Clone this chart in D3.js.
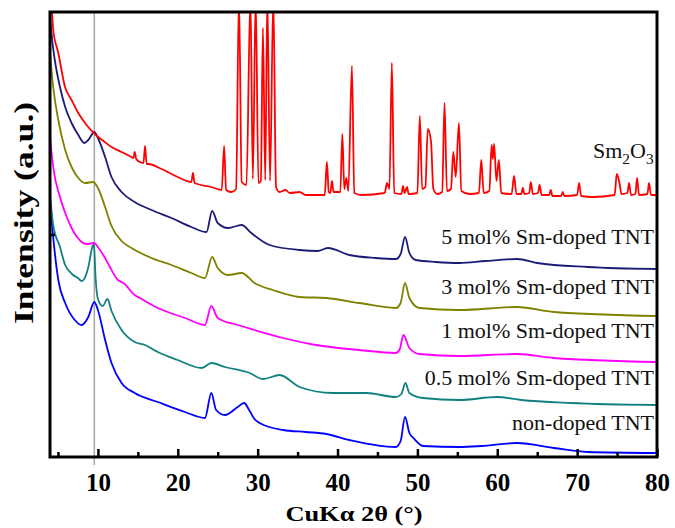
<!DOCTYPE html>
<html>
<head>
<meta charset="utf-8">
<script src="https://cdn.jsdelivr.net/npm/d3@7"></script>
<style>
  html, body { margin: 0; padding: 0; background: #fff; }
  svg { display: block; font-family: "Liberation Serif", "Times New Roman", serif; }
</style>
</head>
<body>
<svg id="chart" width="675" height="528"></svg>
<script>
// XRD patterns, [2theta, intensity a.u.] (curves are stacked)
var sm2o3 = [[4.25,445],[4.41,427],[5.04,404],[5.88,370],[6.7,357],[7.54,344],[8.58,332],[9.6,323],[10.7,316],[11.7,310],[12.96,305],[14.2,300],[14.45,299],[14.6,305],[14.8,298],[15.25,295],[15.7,294],[15.9,311],[16.1,293],[16.3,293],[17.96,288],[20.0,280],[21.7,275],[21.9,284],[22.1,274],[24.2,270],[25.5,267],[25.8,311],[26.05,267],[26.7,265],[27.3,268],[27.66,460],[28.0,275],[28.6,272],[29.09,460],[29.4,278],[29.75,460],[30.1,274],[30.4,276],[30.66,429],[30.95,277],[31.21,460],[31.55,276],[31.96,460],[32.3,270],[32.75,265],[33.5,267],[34,264],[35.25,265],[36,262],[38.4,262],[38.67,295],[38.9,265],[39.1,264],[39.3,276],[39.5,265],[40.35,265],[40.6,323],[40.85,268],[41.1,279],[41.35,266],[41.8,391],[42.1,264],[43.0,262],[45.9,264],[46.2,274],[46.5,268],[46.8,394],[47.1,264],[48.0,263],[48.2,271],[48.4,264],[48.7,270],[48.9,263],[50.0,264],[50.3,341],[50.6,268],[51.0,270],[51.3,328],[51.7,316],[52.0,268],[52.5,263],[53.1,265],[53.4,354],[53.7,266],[54.2,268],[54.5,305],[54.8,280],[55.2,334],[55.5,266],[56.5,263],[57.7,264],[58.0,297],[58.3,264],[59.0,266],[59.3,312],[59.45,298],[59.6,313],[59.9,276],[60.2,297],[60.5,264],[61.8,263],[62.1,281],[62.4,263],[63.0,263],[63.2,269],[63.4,263],[64.0,264],[64.2,275],[64.45,263],[65.1,264],[65.3,272],[65.55,262],[66.5,262],[66.7,267],[66.9,261],[68.0,261],[68.2,265],[68.4,261],[70.0,262],[70.25,274],[70.5,261],[72,260],[74.7,262],[74.96,283],[75.3,274],[75.55,263],[76.3,264],[76.5,274],[76.75,262],[77.3,263],[77.5,279],[77.75,262],[78.8,263],[79.0,274],[79.25,262],[80,262]];

var sm5 = [[4.0,440],[4.3,415],[4.6,397],[5.25,370],[5.9,350],[6.7,334],[7.54,322],[8.3,314],[8.8,317],[9.55,325],[10.0,319],[10.9,300],[11.7,280],[12.96,265],[14.6,255],[16.7,247],[19.2,239],[21.7,230],[23.6,225],[24.3,246],[25.0,234],[26.3,229],[28.0,232],[29.2,224],[31.5,212],[35.25,207],[37.5,206],[38.8,209],[41.5,202],[44.8,199],[47.3,198],[47.9,203],[48.45,220],[49.0,204],[49.8,197],[52.3,195],[55.25,194],[58.5,196],[62.5,198],[65,194],[71.3,190],[80,188]];

var sm3 = [[4.0,404],[4.4,370],[5.04,337],[5.9,307],[6.7,290],[7.54,279],[8.4,274],[9.4,275],[10.0,269],[10.9,250],[11.7,231],[12.96,216],[14.2,209],[16.7,199],[19.2,192],[21.7,184],[23.4,179],[24.3,200],[25.0,189],[26.3,182],[28.0,184],[29.6,174],[31.9,167],[35.25,160],[38.6,159],[42.75,154],[47.3,149],[47.9,154],[48.45,174],[49.0,159],[50.25,149],[55.25,147],[62.5,150],[67.1,145],[80,141]];

var sm1 = [[3.95,325],[4.4,290],[5.25,260],[6.1,240],[6.7,229],[7.3,221],[7.96,215],[8.6,213],[9.5,214],[10.25,207],[10.9,199],[11.5,190],[12.5,177],[13.2,174],[14.6,162],[15.25,159],[17.5,149],[20.9,139],[23.4,132],[24.2,151],[25.0,139],[27.5,132],[29.6,127],[33.2,119],[37.3,112],[42.75,107],[47.3,104],[47.8,108],[48.25,122],[49.0,109],[50.25,103],[55.25,101],[62.5,103],[67.1,99],[80,95]];

var sm05 = [[3.9,272],[4.4,232],[5.25,210],[5.9,192],[6.9,182],[7.5,179],[7.96,176],[8.2,177],[8.8,190],[9.3,210],[9.5,213],[9.7,180],[10.0,158],[10.6,151],[11.2,158],[11.7,146],[12.96,127],[14.6,115],[15.9,112],[17.5,105],[20,97],[23,89],[24.2,94],[25.9,90],[29,84],[30.7,78],[32.75,82],[35.25,70],[39.4,64],[43.6,64],[47.3,60],[48.0,63],[48.5,74],[49,64],[50.7,59],[55.25,57],[60,60],[63,57],[69.2,54],[80,52]];

var undoped = [[3.95,262],[4.4,220],[5.04,177],[5.9,154],[7.1,137],[7.96,132],[8.8,140],[9.55,155],[10.0,147],[10.9,117],[11.7,94],[12.96,74],[14.6,64],[17.5,55],[20.9,45],[23.4,39],[24.2,64],[24.8,47],[25.9,42],[27.5,50],[28.3,54],[29.0,46],[29.6,38],[30.25,34],[33.2,27],[36,25],[38.6,23],[41.5,17],[47.3,10],[47.9,16],[48.45,40],[49,24],[49.5,19],[50.7,11],[55.25,10],[58,11],[62.5,14],[67.1,9],[71.3,5],[80,4]];

var seriesNames = ["non-doped TNT", "0.5 mol% Sm-doped TNT", "1 mol% Sm-doped TNT", "3 mol% Sm-doped TNT", "5 mol% Sm-doped TNT", "Sm2O3"];
var seriesData = [undoped, sm05, sm1, sm3, sm5, sm2o3];
var seriesColors = ["#0000ff", "#118080", "#ff00ff", "#808000", "#1c1c78", "#ff0000"];
var majorTicks = [10, 20, 30, 40, 50, 60, 70, 80];
var minorTicks = [5, 15, 25, 35, 45, 55, 65, 75];
var refLine = 9.55;

var svg = d3.select("#chart");
var plotL = 50, plotR = 657, plotT = 12, plotB = 457;

var x = d3.scaleLinear().domain([4, 80]).range([plotL, plotR]);
var y = d3.scaleLinear().domain([0, 445]).range([plotB, plotT]);

svg.append("clipPath").attr("id", "plotclip")
  .append("rect")
  .attr("x", plotL).attr("y", plotT)
  .attr("width", plotR - plotL).attr("height", plotB - plotT);

// grey guide line at the low-angle peak
svg.append("line")
  .attr("x1", x(refLine)).attr("x2", x(refLine))
  .attr("y1", plotT).attr("y2", plotB + 8)
  .attr("stroke", "#a8a8a8").attr("stroke-width", 1.5);

var line = d3.line()
  .x(function(d) { return x(d[0]); })
  .y(function(d) { return y(d[1]); })
  .curve(d3.curveMonotoneX);

svg.append("g").attr("clip-path", "url(#plotclip)")
  .selectAll("path")
  .data(seriesData)
  .join("path")
  .attr("d", line)
  .attr("fill", "none")
  .attr("stroke", function(d, i) { return seriesColors[i]; })
  .attr("stroke-width", 1.8)
  .attr("stroke-linejoin", "round");

// axes: ticks point inwards, labels bold
var xAxis = svg.append("g")
  .attr("transform", "translate(0," + plotB + ")")
  .call(d3.axisBottom(x).tickValues(majorTicks).tickSize(-8).tickPadding(16).tickFormat(d3.format("d")));
xAxis.select(".domain").remove();
xAxis.selectAll("line").attr("stroke", "#000").attr("stroke-width", 2.5);
xAxis.selectAll("text")
  .attr("font-family", "'Liberation Serif', 'Times New Roman', serif")
  .attr("font-size", 25).attr("font-weight", "bold").attr("fill", "#000");

var xMinor = svg.append("g")
  .attr("transform", "translate(0," + plotB + ")")
  .call(d3.axisBottom(x).tickValues(minorTicks).tickSize(-5).tickFormat(""));
xMinor.select(".domain").remove();
xMinor.selectAll("line").attr("stroke", "#000").attr("stroke-width", 2.5);

var yAxis = svg.append("g")
  .attr("transform", "translate(" + plotL + ",0)")
  .call(d3.axisLeft(y).tickValues([222.5]).tickSize(-5).tickFormat(""));
yAxis.select(".domain").remove();
yAxis.selectAll("line").attr("stroke", "#000").attr("stroke-width", 2.5);

// frame
svg.append("rect")
  .attr("x", plotL).attr("y", plotT)
  .attr("width", plotR - plotL).attr("height", plotB - plotT)
  .attr("fill", "none").attr("stroke", "#000").attr("stroke-width", 3);

// axis titles
svg.append("text")
  .attr("transform", "translate(354,521) scale(1.2,1)")
  .attr("text-anchor", "middle")
  .attr("font-size", 22).attr("font-weight", "bold")
  .text("CuK\u03b1 2\u03b8 (\u00b0)");

svg.append("text")
  .attr("transform", "translate(33,213) rotate(-90) scale(1.27,1)")
  .attr("text-anchor", "middle")
  .attr("font-size", 28).attr("font-weight", "bold")
  .text("Intensity (a.u.)");

// curve labels
var labelY = [430, 385, 338, 294, 244];
svg.append("g").selectAll("text")
  .data(seriesNames.slice(0, 5))
  .join("text")
  .attr("transform", function(d, i) { return "translate(654," + labelY[i] + ") scale(1.1,1)"; })
  .attr("text-anchor", "end")
  .attr("font-size", 20)
  .attr("fill", "#111")
  .text(function(d) { return d; });

var smLabel = svg.append("text")
  .attr("transform", "translate(593,158) scale(1.1,1)")
  .attr("font-size", 20).attr("fill", "#111");
smLabel.append("tspan").text("Sm");
smLabel.append("tspan").attr("font-size", 14).attr("dy", 6).text("2");
smLabel.append("tspan").attr("dy", -6).text("O");
smLabel.append("tspan").attr("font-size", 14).attr("dy", 6).text("3");
</script>
</body>
</html>
